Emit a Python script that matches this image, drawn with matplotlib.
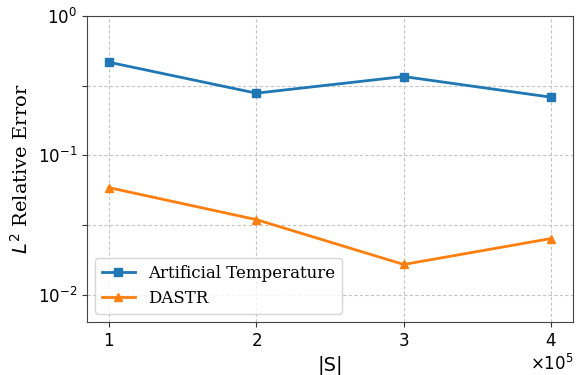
import numpy as np
import matplotlib
matplotlib.use("Agg")
import matplotlib.pyplot as plt

# data
sizes = [1e5, 2e5, 3e5, 4e5]
art_temp = [0.465, 0.279, 0.367, 0.261]
dastr = [0.0588, 0.0347, 0.01656, 0.0254]

fig, ax = plt.subplots(figsize=(5.82, 3.75), dpi=100)
fig.subplots_adjust(left=0.149, right=0.985, top=0.958, bottom=0.141)

ax.plot(sizes, art_temp, marker='s', color='#1f77b4', linewidth=2, markersize=6,
        label='Artificial Temperature')
ax.plot(sizes, dastr, marker='^', color='#ff7f0e', linewidth=2, markersize=6,
        label='DASTR')

ax.set_yscale('log')
ax.set_ylim(0.0064, 1)
yt = [1e-2, 10**-1.5, 1e-1, 10**-0.5, 1]
ax.set_yticks(yt)
ax.set_yticklabels([r'$10^{-2}$', '', r'$10^{-1}$', '', r'$10^{0}$'])
ax.yaxis.set_minor_locator(matplotlib.ticker.NullLocator())
ax.tick_params(labelsize=12, color='#333333')

ax.ticklabel_format(axis='x', style='sci', scilimits=(0, 0), useMathText=True)
ax.xaxis.get_offset_text().set_fontsize(12)
ax.set_xticks(sizes)

for s in ax.spines.values():
    s.set_color('#444444')

ax.grid(True, linestyle=(0, (3, 2)), color='#c4c4c4', linewidth=0.8)
ax.set_xlabel('|S|', fontsize=14)
ax.set_ylabel(r'$L^2$ Relative Error', fontsize=14, family='DejaVu Serif')
ax.legend(loc='lower left', prop={'family': 'DejaVu Serif', 'size': 12})

plt.savefig('out.png')
